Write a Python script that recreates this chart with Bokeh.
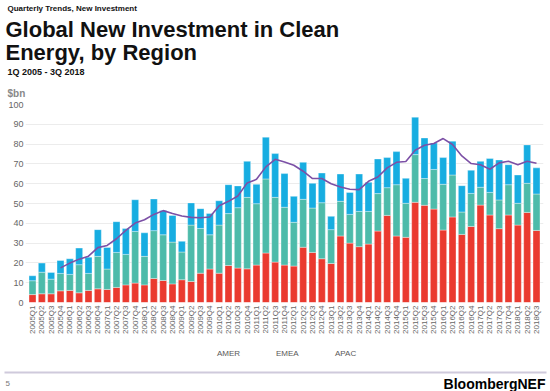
import math
from bokeh.plotting import figure
from bokeh.layouts import column
from bokeh.models import (FactorRange, Range1d, Label, Legend, LegendItem,
                          ColumnDataSource, FixedTicker, BoxAnnotation)
from bokeh.embed import file_html
from bokeh.resources import INLINE

quarters = [
    "2005Q1", "2005Q2", "2005Q3", "2005Q4", "2006Q1", "2006Q2", "2006Q3", "2006Q4",
    "2007Q1", "2007Q2", "2007Q3", "2007Q4", "2008Q1", "2008Q2", "2008Q3", "2008Q4",
    "2009Q1", "2009Q2", "2009Q3", "2009Q4", "2010Q1", "2010Q2", "2010Q3", "2010Q4",
    "2011Q1", "2011Q2", "2011Q3", "2011Q4", "2012Q1", "2012Q2", "2012Q3", "2012Q4",
    "2013Q1", "2013Q2", "2013Q3", "2013Q4", "2014Q1", "2014Q2", "2014Q3", "2014Q4",
    "2015Q1", "2015Q2", "2015Q3", "2015Q4", "2016Q1", "2016Q2", "2016Q3", "2016Q4",
    "2017Q1", "2017Q2", "2017Q3", "2017Q4", "2018Q1", "2018Q2", "2018Q3",
]

apac = [4.0, 4.4, 4.4, 5.9, 6.1, 4.9, 6.1, 6.9, 6.6, 7.6, 8.9, 9.8, 8.9, 12.1, 11.1, 9.4,
        11.5, 10.6, 14.8, 16.9, 14.8, 18.7, 17.4, 17.0, 18.9, 25.0, 20.4, 18.9, 18.4, 27.9,
        25.3, 22.1, 19.7, 33.6, 30.0, 28.2, 29.5, 36.1, 44.0, 33.6, 32.9, 50.6, 49.1, 47.2,
        36.6, 43.2, 34.4, 38.4, 49.2, 44.2, 37.3, 44.2, 39.1, 45.5, 36.4]

emea = [7.0, 10.9, 7.4, 8.8, 8.1, 14.2, 8.6, 16.4, 10.3, 17.7, 15.4, 26.1, 14.4, 24.2, 23.1,
        21.1, 14.0, 28.5, 22.6, 17.3, 24.3, 26.2, 30.5, 36.1, 31.0, 37.4, 32.7, 29.2, 22.1,
        24.2, 22.4, 28.3, 17.1, 17.5, 14.5, 17.8, 16.5, 18.9, 14.0, 25.9, 17.2, 24.1, 13.5,
        20.0, 23.1, 21.2, 11.3, 16.7, 9.0, 11.4, 14.5, 15.3, 11.0, 14.7, 18.4]

amer = [2.5, 4.6, 3.4, 6.5, 7.9, 8.4, 8.2, 13.5, 10.9, 15.5, 13.1, 16.0, 11.9, 16.0, 12.3,
        13.5, 5.4, 11.2, 10.0, 10.8, 12.3, 14.6, 11.0, 18.2, 9.8, 21.1, 22.1, 17.0, 13.1,
        18.7, 12.5, 15.0, 6.7, 13.8, 11.1, 18.9, 14.7, 17.5, 15.2, 16.7, 12.6, 18.9, 20.5,
        13.4, 13.5, 17.1, 13.3, 11.7, 13.1, 17.1, 20.2, 10.1, 14.3, 19.4, 13.2]

# four-quarter trailing average
trend = [float("nan"), float("nan"), float("nan"),
         17.5, 19.9, 21.9, 23.4, 27.7, 28.8, 32.2, 36.4, 40.1, 41.8, 44.5, 46.4,
         44.9, 43.7, 43.0, 42.8, 43.2, 48.9, 51.1, 53.8, 60.4, 62.2, 68.5, 72.3,
         71.0, 69.3, 66.3, 62.6, 62.6, 60.0, 58.3, 57.2, 57.0, 61.2, 63.4, 68.0,
         70.8, 71.2, 76.9, 79.4, 80.3, 82.8, 79.8, 74.0, 70.2, 69.6, 67.3, 70.5,
         71.3, 69.6, 71.3, 70.3]

y_ticks = [0, 10, 20, 30, 40, 50, 60, 70, 80, 90, 100]
series_labels = ["AMER", "EMEA", "APAC"]

C_APAC = "#ea3a2f"
C_EMEA = "#4dbbaa"
C_AMER = "#17ade1"
C_LINE = "#7c50a6"
FONT = "Liberation Sans"
W = 548
H_HEAD, H_MAIN, H_FOOT = 98, 240, 53


def blank(h):
    f = figure(width=W, height=h, output_backend="svg", toolbar_location=None,
               title=None, x_range=Range1d(0, W), y_range=Range1d(h, 0),
               x_axis_type=None, y_axis_type=None)
    f.frame_align = False
    f.min_border = 0
    f.min_border_left = f.min_border_right = 0
    f.min_border_top = f.min_border_bottom = 0
    f.outline_line_color = None
    f.xgrid.visible = False
    f.ygrid.visible = False
    return f


def lab(f, text, x, y, size, bold=True, color="#111111", align="left"):
    f.add_layout(Label(x=x, y=y, text=text, text_font=FONT, text_font_size=size,
                       text_font_style="bold" if bold else "normal",
                       text_color=color, text_align=align,
                       text_baseline="alphabetic"))


# ---- header
head = blank(H_HEAD)
lab(head, "Quarterly Trends, New Investment", 7, 8, "8px")
lab(head, "Global New Investment in Clean", 5, 28.5, "22px")
lab(head, "Energy, by Region", 5, 51.5, "22px")
lab(head, "1Q 2005 - 3Q 2018", 7, 71, "9px")
lab(head, "$bn", 7, 92.5, "10px", color="#888888")

# ---- main chart
src = ColumnDataSource(dict(q=quarters, APAC=apac, EMEA=emea, AMER=amer, trend=trend))

p = figure(width=W, height=H_MAIN, output_backend="svg", toolbar_location=None,
           title=None,
           x_range=FactorRange(factors=quarters, range_padding=0.25,
                               range_padding_units="absolute"),
           y_range=Range1d(0, 100))
p.frame_align = False
p.min_border_left = 25
p.min_border_right = 5
p.min_border_top = 6
p.min_border_bottom = 36
p.outline_line_color = None

rs = p.vbar_stack(["APAC", "EMEA", "AMER"], x="q", width=0.75, source=src,
                  color=[C_APAC, C_EMEA, C_AMER], line_color="white",
                  line_alpha=0.6, line_width=0.6)
p.line("q", "trend", source=src, color=C_LINE, line_width=1.6)

p.xgrid.grid_line_color = None
p.ygrid.grid_line_color = "#ececec"
p.ygrid.grid_line_width = 1

p.yaxis.ticker = FixedTicker(ticks=y_ticks)
p.yaxis.axis_line_color = None
p.yaxis.major_tick_line_color = None
p.yaxis.minor_tick_line_color = None
p.yaxis.major_tick_out = 0
p.yaxis.major_label_standoff = 2
p.yaxis.major_label_text_font = FONT
p.yaxis.major_label_text_font_size = "9px"
p.yaxis.major_label_text_color = "#666666"

p.xaxis.axis_line_color = None
p.xaxis.major_tick_line_color = None
p.xaxis.minor_tick_line_color = None
p.xaxis.major_tick_out = 0
p.xaxis.major_label_orientation = math.pi / 2
p.xaxis.major_label_standoff = 3
p.xaxis.major_label_text_font = FONT
p.xaxis.major_label_text_font_size = "8px"
p.xaxis.major_label_text_color = "#666666"

# ---- legend + footer strip (swatches share the series colours)
foot = blank(H_FOOT)
sw_amer = foot.vbar(x=[], top=[], width=1, color=C_AMER)
sw_emea = foot.vbar(x=[], top=[], width=1, color=C_EMEA)
sw_apac = foot.vbar(x=[], top=[], width=1, color=C_APAC)
legend = Legend(items=[LegendItem(label=series_labels[0], renderers=[sw_amer]),
                       LegendItem(label=series_labels[1], renderers=[sw_emea]),
                       LegendItem(label=series_labels[2], renderers=[sw_apac])],
                location=(207, 33), orientation="horizontal",
                glyph_width=7, glyph_height=7, label_standoff=3, label_width=41,
                label_height=7, spacing=8, padding=0, margin=0,
                border_line_color=None, background_fill_alpha=0,
                label_text_font=FONT, label_text_font_size="8px",
                label_text_color="#595959")
foot.add_layout(legend, "center")
# separator rule across the page
foot.add_layout(BoxAnnotation(left=4, right=546, top=33, bottom=35,
                              fill_color="#cfcadc", fill_alpha=1.0,
                              line_color=None))
lab(foot, "5", 5, 45, "8px", bold=False, color="#777777")
lab(foot, "BloombergNEF", 545, 45, "14px", color="#000000", align="right")

layout = column(head, p, foot, spacing=0)
open("out.html", "w").write(file_html(layout, INLINE))
